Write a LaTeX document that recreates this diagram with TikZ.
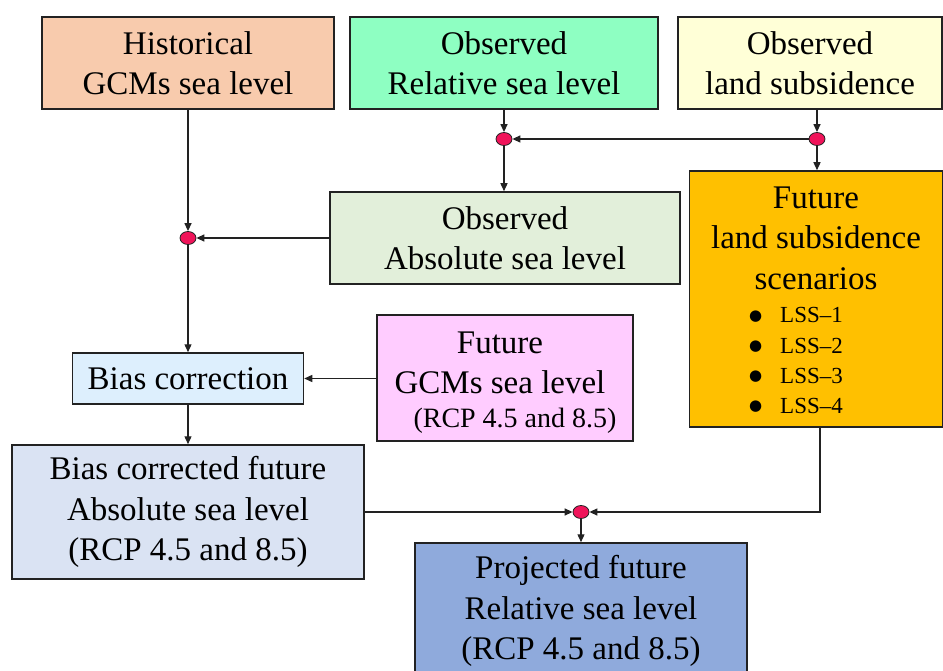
\documentclass[tikz,border=0pt]{standalone}
\usepackage{fontspec}
\setmainfont{Liberation Serif}
\newfontfamily\symfont{DejaVu Sans}
\usetikzlibrary{arrows.meta,shapes.geometric}
\definecolor{histc}{HTML}{F8CBAD}
\definecolor{relc}{HTML}{8EFFC2}
\definecolor{landc}{HTML}{FFFFD7}
\definecolor{absc}{HTML}{E2EFDA}
\definecolor{lssc}{HTML}{FFC000}
\definecolor{biasc}{HTML}{DDEFFD}
\definecolor{gcmc}{HTML}{FFCCFF}
\definecolor{bcorc}{HTML}{DAE3F3}
\definecolor{projc}{HTML}{8FAADC}
\definecolor{jred}{HTML}{F0145A}
\definecolor{edge}{HTML}{222222}
\newcommand{\bigbul}{\makebox[31pt][l]{\raisebox{2.5pt}{\symfont\fontsize{15}{18}\selectfont ●}}}
\tikzset{
  box/.style={draw=edge, line width=1.5pt, inner sep=0pt, align=center,
    font=\fontsize{33}{40.5}\selectfont},
  txt/.style={inner sep=0pt, align=center, font=\fontsize{33}{40.5}\selectfont},
  smalltxt/.style={inner sep=0pt, font=\fontsize{28}{34}\selectfont},
  itemtxt/.style={inner sep=0pt, anchor=base west, font=\fontsize{23}{30}\selectfont},
  junc/.style={ellipse, draw=edge, line width=0.8pt, fill=jred,
    minimum width=16pt, minimum height=13pt, inner sep=0pt},
  conn/.style={draw=edge, line width=1.3pt, -{Triangle[length=8pt,width=7pt]}},
}
\begin{document}
\begin{tikzpicture}[x=1pt,y=1pt]
\useasboundingbox (0,0) rectangle (943,-671);
% boxes
\node[box, fill=histc, minimum width=292pt, minimum height=92pt] (hist) at (188,-63) {Historical\\GCMs sea level};
\node[box, fill=relc, minimum width=308pt, minimum height=92pt] (obsrel) at (504,-63) {Observed\\Relative sea level};
\node[box, fill=landc, minimum width=264pt, minimum height=92pt] (obsland) at (810,-63) {Observed\\land subsidence};
\node[box, fill=absc, minimum width=350pt, minimum height=92pt] (obsabs) at (505,-238) {Observed\\Absolute sea level};
\node[box, fill=lssc, minimum width=253pt, minimum height=256pt] (lss) at (816,-299) {};
\node[txt] (lsstext) at (816,-238) {Future\\land subsidence\\scenarios};
\node[itemtxt] (lss1) at (749,-323) {\bigbul LSS–1};
\node[itemtxt] (lss2) at (749,-353) {\bigbul LSS–2};
\node[itemtxt] (lss3) at (749,-383) {\bigbul LSS–3};
\node[itemtxt] (lss4) at (749,-413) {\bigbul LSS–4};
\node[box, fill=biasc, minimum width=231pt, minimum height=51pt] (bias) at (188,-378.5) {Bias correction};
\node[box, fill=gcmc, minimum width=256pt, minimum height=126pt] (fgcm) at (505,-378) {};
\node[txt] (fgcmtext) at (500,-363) {Future\\GCMs sea level};
\node[smalltxt] (fgcmrcp) at (515,-421) {(RCP 4.5 and 8.5)};
\node[box, fill=bcorc, minimum width=352pt, minimum height=134pt] (bcor) at (188,-512) {Bias corrected future\\Absolute sea level\\(RCP 4.5 and 8.5)};
\node[box, fill=projc, minimum width=332pt, minimum height=136pt] (proj) at (581,-611) {Projected future\\Relative sea level\\(RCP 4.5 and 8.5)};
% junctions
\node[junc] (j1) at (504,-139) {};
\node[junc] (j2) at (817,-139) {};
\node[junc] (j3) at (188,-238) {};
\node[junc] (j4) at (581,-512) {};
% connectors
\draw[conn] (obsrel.south -| j1) -- (j1);
\draw[conn] (obsland.south -| j2) -- (j2);
\draw[conn] (j2) -- (j1);
\draw[conn] (j2) -- (j2 |- lss.north);
\draw[conn] (j1) -- (j1 |- obsabs.north);
\draw[conn] (hist.south -| j3) -- (j3);
\draw[conn] (obsabs.west) -- (j3);
\draw[conn] (j3) -- (j3 |- bias.north);
\draw[conn] (fgcm.west |- bias.east) -- (bias.east);
\draw[conn] (bias.south) -- (bias.south |- bcor.north);
\draw[conn] (bcor.east |- j4) -- (j4);
\draw[conn] ([xshift=4pt]lss.south) |- (j4);
\draw[conn] (j4) -- (j4 |- proj.north);
\end{tikzpicture}
\end{document}
